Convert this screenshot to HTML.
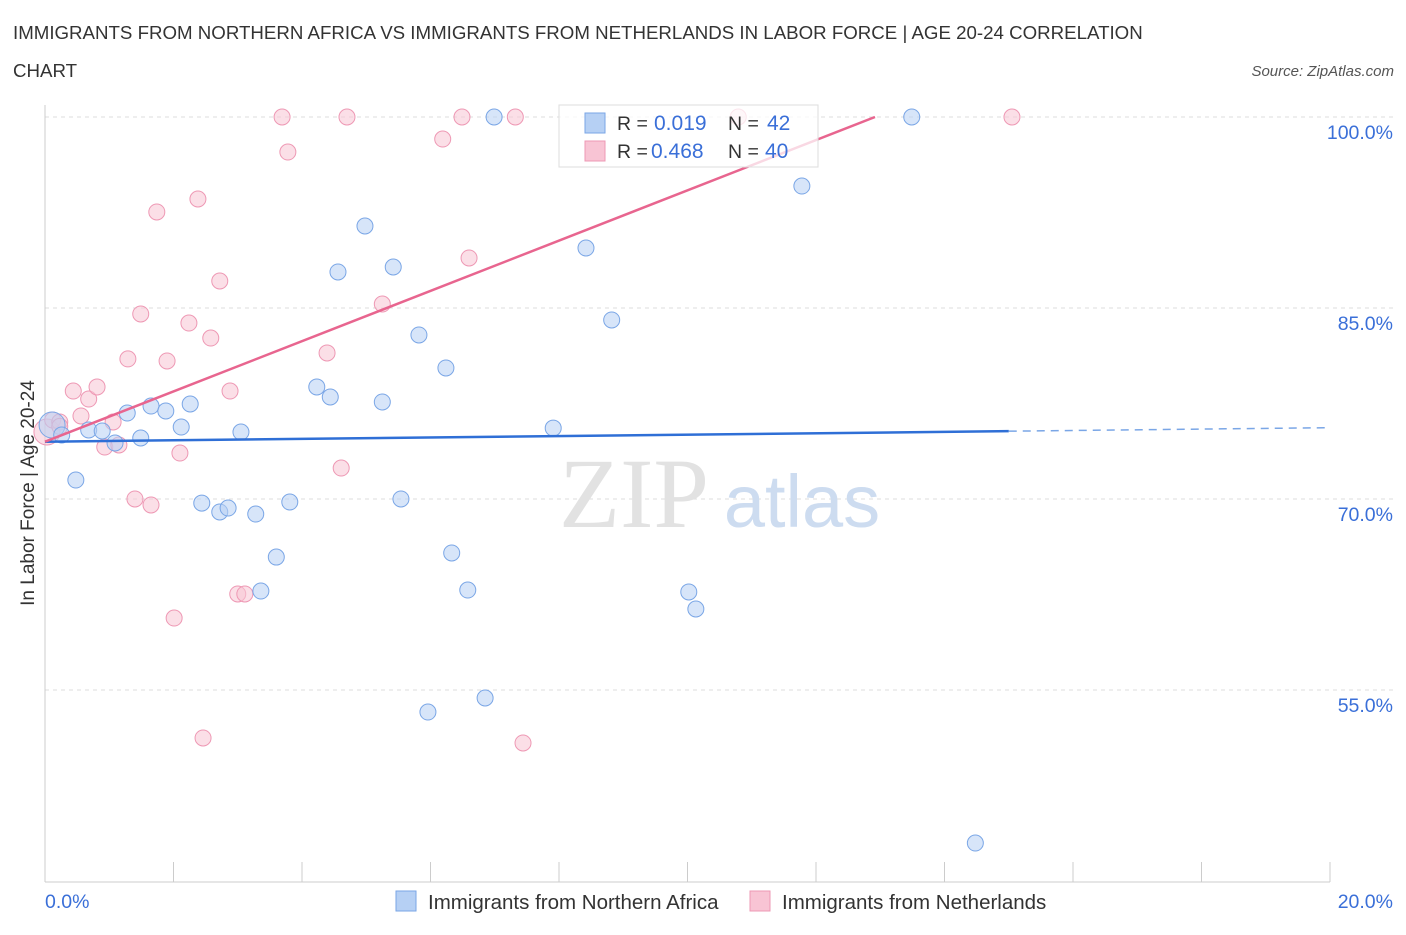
<!DOCTYPE html>
<html><head><meta charset="utf-8"><style>
body{margin:0;background:#fff;font-family:"Liberation Sans",sans-serif;}
</style></head><body>
<svg id="chart" width="1406" height="930" font-family="Liberation Sans, sans-serif">
<text x="13" y="39" font-size="18.7" fill="#333">IMMIGRANTS FROM NORTHERN AFRICA VS IMMIGRANTS FROM NETHERLANDS IN LABOR FORCE | AGE 20-24 CORRELATION</text>
<text x="13" y="77" font-size="18.7" fill="#333">CHART</text>
<text x="1394" y="76" font-size="15" fill="#555" font-style="italic" text-anchor="end">Source: ZipAtlas.com</text>
<g id="grid"></g>
<text x="634" y="527" font-size="100" fill="#e2e2e2" font-family="Liberation Serif, serif" text-anchor="middle">ZIP</text>
<text x="802" y="527" font-size="74" fill="#cddcf0" text-anchor="middle">atlas</text>
<g id="marks"></g>
<text x="34" y="493" font-size="19" fill="#333" transform="rotate(-90 34 493)" text-anchor="middle">In Labor Force | Age 20-24</text>
<text x="45" y="908" font-size="19.5" fill="#3a6fd8">0.0%</text>
<text x="1393" y="908" font-size="19.5" fill="#3a6fd8" text-anchor="end">20.0%</text>
<g>
<rect x="559" y="105" width="259" height="62" fill="#fff" fill-opacity="0.75" stroke="#ddd"/>
<rect x="585" y="113" width="20" height="20" fill="#b6d0f4" stroke="#7aa6e6"/>
<rect x="585" y="141" width="20" height="20" fill="#f8c4d4" stroke="#ee98b4"/>
<text x="617" y="130" font-size="19.5" fill="#333">R = </text><text x="654" y="130" font-size="21" fill="#3a6fd8">0.019</text>
<text x="728" y="130" font-size="19.5" fill="#333">N = </text><text x="767" y="130" font-size="21" fill="#3a6fd8">42</text>
<text x="617" y="158" font-size="19.5" fill="#333">R = </text><text x="651" y="158" font-size="21" fill="#3a6fd8">0.468</text>
<text x="728" y="158" font-size="19.5" fill="#333">N = </text><text x="765" y="158" font-size="21" fill="#3a6fd8">40</text>
</g>
<g>
<rect x="396" y="891" width="20" height="20" fill="#b6d0f4" stroke="#7aa6e6"/>
<text x="428" y="909" font-size="20.5" fill="#333">Immigrants from Northern Africa</text>
<rect x="750" y="891" width="20" height="20" fill="#f8c4d4" stroke="#ee98b4"/>
<text x="782" y="909" font-size="20.5" fill="#333">Immigrants from Netherlands</text>
</g>
</svg>
<script>
const yTicks=[55,70,85,100];
const yTickLabels=["55.0%","70.0%","85.0%","100.0%"];
const xTicks=[0,2,4,6,8,10,12,14,16,18,20];
const blueX=[0.11,0.26,0.48,0.68,0.89,1.09,1.28,1.49,1.65,1.88,2.12,2.26,2.44,2.72,2.85,3.05,3.28,3.36,3.60,3.81,4.23,4.44,4.56,4.98,5.25,5.42,5.54,5.82,5.96,6.24,6.33,6.58,6.85,6.99,7.91,8.42,8.82,10.02,10.13,11.78,13.49,14.48];
const blueY=[75.81,75.03,71.49,75.42,75.34,74.40,76.75,74.79,77.30,76.91,75.65,77.46,69.68,68.98,69.29,75.26,68.82,62.77,65.44,69.76,78.80,78.01,87.83,91.44,77.62,88.22,70.00,82.88,53.27,80.29,65.76,62.85,54.37,100,75.57,89.71,84.06,62.70,61.36,94.58,100,42.98];
const pinkX=[0.03,0.12,0.23,0.44,0.56,0.68,0.81,0.93,1.06,1.15,1.29,1.40,1.49,1.65,1.74,1.90,2.01,2.10,2.24,2.38,2.46,2.58,2.72,2.88,3.00,3.11,3.69,3.78,4.39,4.61,4.70,5.25,6.19,6.49,6.60,7.32,7.44,10.79,15.05,0.23];
const pinkY=[75.26,76.20,76.05,78.48,76.52,77.85,78.80,74.08,76.05,74.24,81.00,70.00,84.53,69.53,92.54,80.84,60.65,73.61,83.82,93.56,51.23,82.64,87.12,78.48,62.54,62.54,100,97.25,81.47,72.43,100,85.31,98.27,100,88.93,100,50.84,100,100,75.70];
const blueFit=[74.5,0.055];
const pinkFit=[74.5,1.974];
const X=v=>45+v*64.25, Y=v=>117+(100-v)*12.733;
const NS="http://www.w3.org/2000/svg";
const grid=document.getElementById('grid'), marks=document.getElementById('marks');
function mk(tag,attrs,parent){const e=document.createElementNS(NS,tag);for(const k in attrs)e.setAttribute(k,attrs[k]);parent.appendChild(e);return e;}
yTicks.forEach((t,i)=>{
 const l=mk('line',{x1:45,x2:1395,y1:Y(t),y2:Y(t),stroke:'#ddd','stroke-dasharray':'4,4'},grid);
 
 
 const tx=mk('text',{x:1393,y:Y(t)+22,'font-size':19.5,fill:'#3a6fd8','text-anchor':'end'},grid);
 tx.textContent=yTickLabels[i];
 
 
});
const ax=mk('line',{x1:45,x2:45,y1:105,y2:882,stroke:'#ccc'},grid);


const bx=mk('line',{x1:45,x2:1330,y1:882,y2:882,stroke:'#ccc'},grid);


xTicks.forEach(t=>{
 const l=mk('line',{x1:X(t),x2:X(t),y1:862,y2:882,stroke:'#ccc'},grid);
 
 
});
function pts(xs,ys,fill,stroke,name){
 xs.forEach((x,i)=>{
  const big=(i===0);
  const c=mk('circle',{cx:X(x),cy:Y(ys[i]),r:big?13:8,fill:fill,stroke:stroke,'stroke-width':1,'fill-opacity':0.55},marks);
  
  
 });
}
pts(pinkX,pinkY,'#f8c4d4','#ee98b4','netherlands-point');
pts(blueX,blueY,'#b6d0f4','#7aa6e6','northern-africa-point');
const b1=mk('line',{x1:X(0),y1:Y(blueFit[0]),x2:X(15),y2:Y(blueFit[0]+blueFit[1]*15),stroke:'#2f6fd6','stroke-width':2.5},marks);


const b2=mk('line',{x1:X(15),y1:Y(blueFit[0]+blueFit[1]*15),x2:X(20),y2:Y(blueFit[0]+blueFit[1]*20),stroke:'#7aa6e6','stroke-width':1.5,'stroke-dasharray':'8,6'},marks);


const xEnd=(100-pinkFit[0])/pinkFit[1];
const p1=mk('line',{x1:X(0),y1:Y(pinkFit[0]),x2:X(xEnd),y2:Y(100),stroke:'#e8658f','stroke-width':2.5},marks);


</script>
</body></html>
